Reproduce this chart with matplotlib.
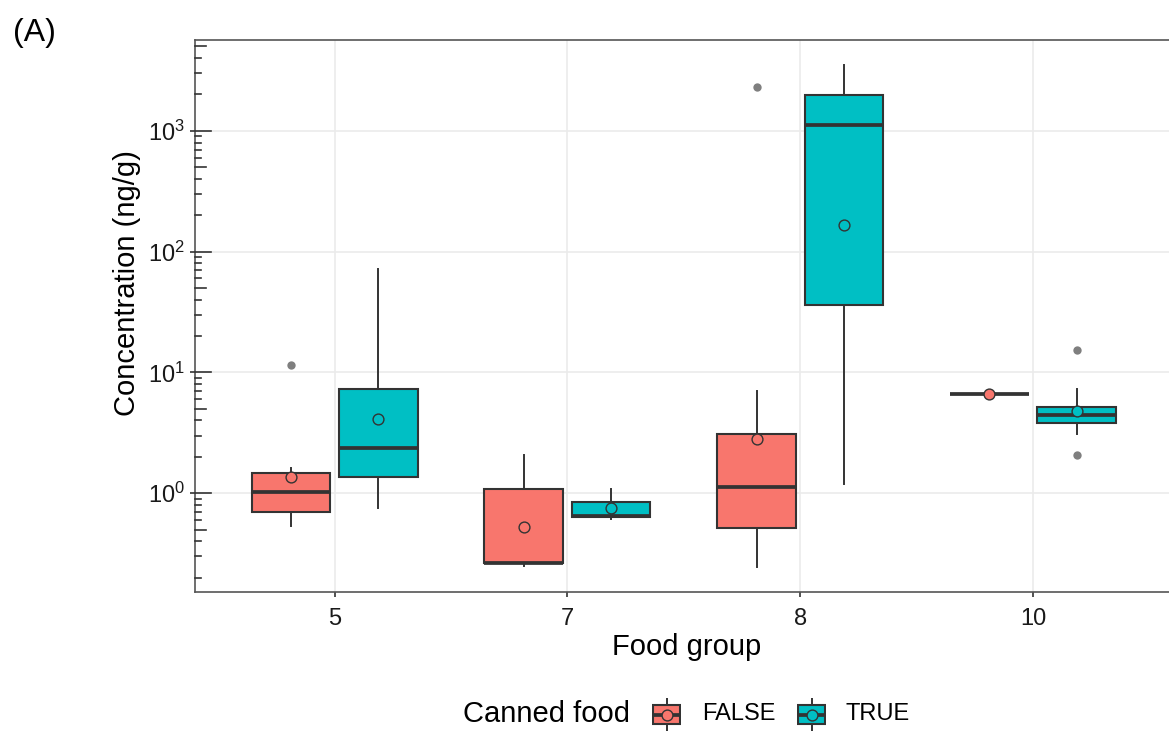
import numpy as np
import matplotlib.pyplot as plt
from matplotlib.ticker import FixedLocator, LogFormatterMathtext, NullLocator

plt.rcParams['font.family'] = ['Liberation Sans', 'DejaVu Sans']
plt.rcParams['mathtext.fontset'] = 'custom'
plt.rcParams['mathtext.rm'] = 'Liberation Sans'
plt.rcParams['mathtext.it'] = 'Liberation Sans:italic'
plt.rcParams['mathtext.bf'] = 'Liberation Sans:bold'

# food groups on the x axis, split by canned food (FALSE / TRUE)
food_groups = ['5', '7', '8', '10']
canned_levels = ['FALSE', 'TRUE']
fill_colors = ['#F8766D', '#00BFC4']

# box summaries (ng/g), one entry per food group
false_whislo = [0.535, 0.249, 0.245, 6.67]
false_q1 = [0.695, 0.262, 0.513, 6.67]
false_med = [1.03, 0.266, 1.13, 6.67]
false_q3 = [1.47, 1.09, 3.07, 6.67]
false_whishi = [1.61, 2.08, 7.03, 6.67]
false_mean = [1.365, 0.526, 2.83, 6.67]
false_outliers = [[11.5], [], [2300], []]

true_whislo = [0.75, 0.616, 1.20, 3.07]
true_q1 = [1.365, 0.635, 36.2, 3.81]
true_med = [2.37, 0.648, 1111, 4.47]
true_q3 = [7.28, 0.847, 1983, 5.17]
true_whishi = [72, 1.09, 3530, 7.24]
true_mean = [4.13, 0.76, 167.6, 4.77]
true_outliers = [[], [], [], [15.4, 2.06]]

EDGE = '#333333'


def box_stats(whislo, q1, med, q3, whishi, mean, outliers):
    return [dict(whislo=a, q1=b, med=c, q3=d, whishi=e, mean=f, fliers=g)
            for a, b, c, d, e, f, g in zip(whislo, q1, med, q3, whishi, mean, outliers)]


def draw_boxes(ax, stats, positions, width, color):
    ax.bxp(stats, positions=positions, widths=width, patch_artist=True,
           showmeans=True, showcaps=False, manage_ticks=False,
           boxprops=dict(facecolor=color, edgecolor=EDGE, linewidth=1.5),
           medianprops=dict(color=EDGE, linewidth=2.7, solid_capstyle='butt'),
           whiskerprops=dict(color=EDGE, linewidth=1.4),
           meanprops=dict(marker='o', markerfacecolor=color, markeredgecolor=EDGE,
                          markersize=7.8, markeredgewidth=1.0),
           flierprops=dict(marker='o', markerfacecolor='#7f7f7f',
                           markeredgecolor='none', markersize=6),
           zorder=3)


W, H = 1169, 731
fig = plt.figure(figsize=(W / 100, H / 100), dpi=100)
ax = fig.add_axes([195 / W, 139 / H, 977.6 / W, 552 / H])

x = np.arange(1, len(food_groups) + 1)
dodge = 0.1875
box_w = 0.3375
draw_boxes(ax, box_stats(false_whislo, false_q1, false_med, false_q3, false_whishi,
                         false_mean, false_outliers), x - dodge, box_w, fill_colors[0])
draw_boxes(ax, box_stats(true_whislo, true_q1, true_med, true_q3, true_whishi,
                         true_mean, true_outliers), x + dodge, box_w, fill_colors[1])

ax.set_yscale('log')
ax.set_ylim(0.152, 5650)
ax.set_xlim(0.4, len(food_groups) + 0.6)
ax.set_xticks(x)
ax.set_xticklabels(food_groups)
ax.yaxis.set_major_locator(FixedLocator([1, 10, 100, 1000]))
ax.yaxis.set_major_formatter(LogFormatterMathtext())
ax.yaxis.set_minor_locator(NullLocator())

ax.grid(True, which='major', color='#ebebeb', linewidth=1.2)
ax.set_axisbelow(True)
for s in ax.spines.values():
    s.set_color('#555555')
    s.set_linewidth(1.2)
ax.tick_params(axis='both', which='major', direction='out', length=3.5, width=1.2,
               color=EDGE, labelsize=17, labelcolor='#1a1a1a', pad=4)
ax.tick_params(axis='x', pad=8)

# log ticks drawn inside the panel: short, mid (5) and long (decade)
ylo, yhi = ax.get_ylim()
ax_w_px = 977.6
for d in range(-1, 4):
    for m in range(1, 10):
        v = m * 10.0 ** d
        if not (ylo <= v <= yhi):
            continue
        ln = 16 if m == 1 else (11 if m == 5 else 6)
        ax.plot([0, ln / ax_w_px], [v, v], color=EDGE, lw=1.2,
                transform=ax.get_yaxis_transform(), clip_on=False, zorder=4)

ax.set_ylabel('Concentration (ng/g)', fontsize=21, va='center')
ax.yaxis.set_label_coords((127.5 - 195) / ax_w_px, (592 - 283) / 552)
ax.set_xlabel('Food group', fontsize=21, va='center')
ax.xaxis.set_label_coords((687 - 195) / ax_w_px, (592 - 647) / 552)

fig.text(13 / W, 1 - 33 / H, '(A)', fontsize=23, ha='left', va='center')

# legend: title, keys and labels along the bottom
leg_y = 1 - 714 / H
fig.text(463 / W, leg_y, 'Canned food', fontsize=21, ha='left', va='center')
key_x = [652, 797]
label_x = [702, 845]
for kx, lx, color, lab in zip(key_x, label_x, fill_colors, canned_levels):
    kax = fig.add_axes([kx / W, (H - 731) / H, 29 / W, 33 / H])
    kax.set_xlim(-0.5, 0.5)
    kax.set_ylim(0, 1)
    kax.axis('off')
    draw_boxes(kax, [dict(whislo=0.0, q1=0.2, med=0.5, q3=0.8, whishi=1.0,
                          mean=0.5, fliers=[])], [0], 0.95, color)
    fig.text(lx / W, leg_y, lab, fontsize=17, ha='left', va='center')

plt.savefig('out.png', dpi=100)
